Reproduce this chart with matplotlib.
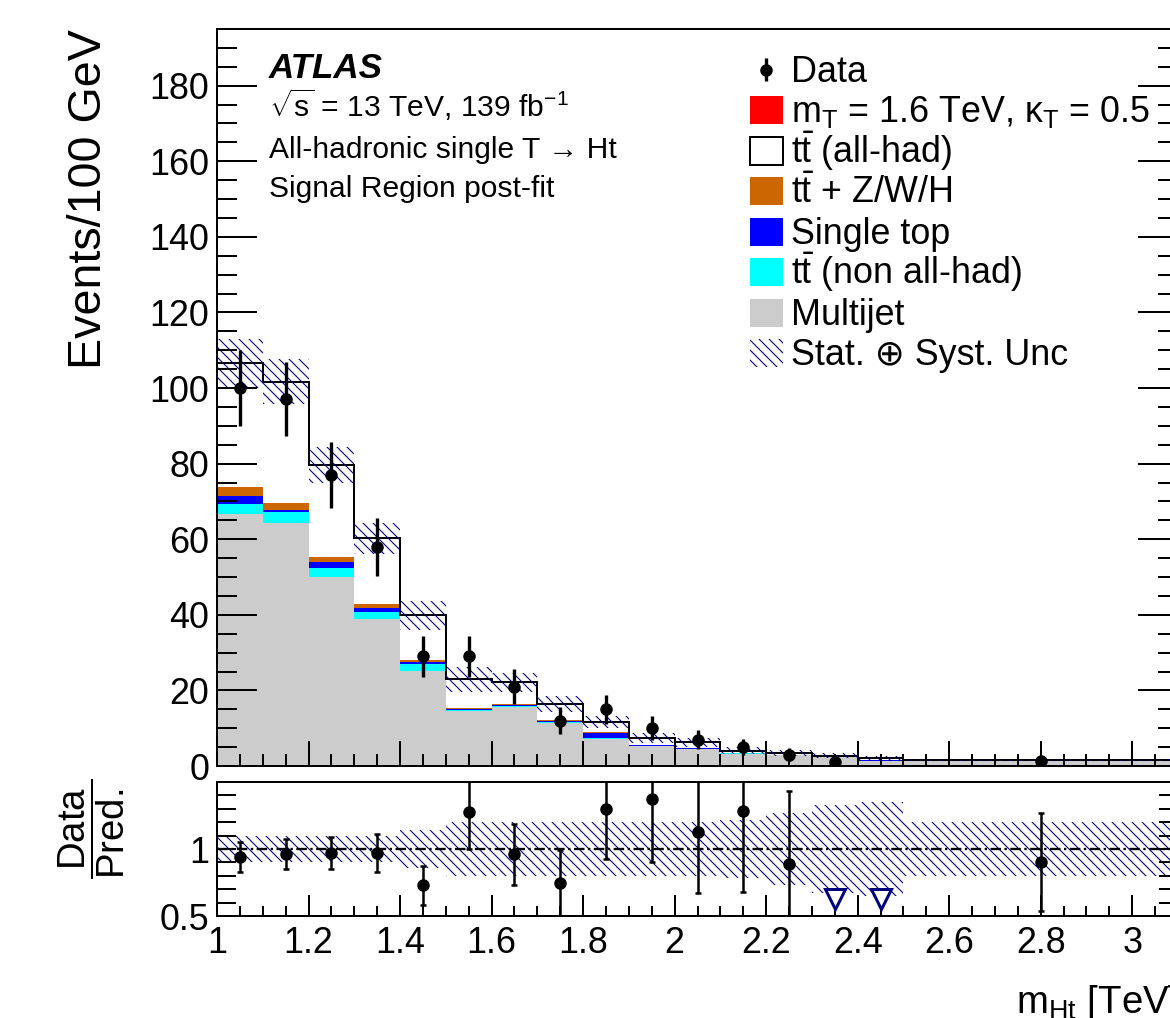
import matplotlib
matplotlib.use("Agg")
import matplotlib.pyplot as plt
import numpy as np
from matplotlib.patches import Rectangle
from matplotlib.ticker import MultipleLocator, FixedLocator, FuncFormatter

plt.rcParams["font.family"] = ["Liberation Sans", "DejaVu Sans"]
plt.rcParams["mathtext.fontset"] = "custom"
plt.rcParams["mathtext.rm"] = "Liberation Sans"
plt.rcParams["mathtext.it"] = "Liberation Sans:italic"
plt.rcParams["mathtext.bf"] = "Liberation Sans:bold"
plt.rcParams["hatch.linewidth"] = 0.65

NAVY = "#000080"
HATCH = "\\\\\\\\"
plt.rcParams["hatch.color"] = NAVY

# m_Ht bin edges [TeV]
bin_edges = [1.0, 1.1, 1.2, 1.3, 1.4, 1.5, 1.6, 1.7, 1.8, 1.9, 2.0, 2.1, 2.2, 2.3, 2.4, 2.5, 3.1]

# post-fit stack, events / 100 GeV, bottom to top
multijet = [66.6, 64.4, 50.1, 38.8, 25.2, 14.5, 15.7, 11.3, 7.2, 5.2, 4.5, 3.3, 2.8, 2.3, 1.3, 1.3]
tt_nonallhad = [2.7, 2.8, 2.3, 2.0, 1.7, 0.3, 0.3, 0.4, 0.3, 0.2, 0.1, 0.1, 0.1, 0.1, 0.05, 0.05]
single_top = [2.2, 0.5, 1.6, 0.9, 0.5, 0.3, 0.1, 0.2, 1.3, 0.1, 0.2, 0.05, 0.05, 0.05, 0.15, 0.05]
ttV = [2.2, 1.8, 1.4, 1.1, 0.6, 0.3, 0.3, 0.3, 0.2, 0.1, 0.05, 0.05, 0.05, 0.05, 0.0, 0.0]
tt_allhad = [32.8, 32.2, 24.2, 17.4, 11.9, 7.6, 5.7, 4.2, 2.7, 1.8, 1.45, 0.5, 0.5, 0.2, 0.5, 0.1]
signal = [0.0, 0.0, 0.0, 0.0, 0.0, 0.0, 0.0, 0.0, 0.0, 0.0, 0.0, 0.0, 0.0, 0.0, 0.0, 0.0]

# stat + syst uncertainty on the total prediction
bkg_unc = [6.5, 6.0, 4.75, 4.1, 3.8, 3.3, 2.5, 2.0, 1.55, 1.3, 1.2, 0.9, 0.8, 0.7, 0.6, 0.3]

data = [100, 97, 77, 58, 29, 29, 21, 12, 15, 10, 7, 5, 3, 1, 0, 1.4]
data_err = [10.0, 9.8, 8.8, 7.6, 5.4, 5.4, 4.6, 3.5, 3.9, 3.2, 2.6, 2.2, 1.7, 1.0, 0.0, 0.5]

# ratio panel
ratio_vals = [0.942, 0.96, 0.97, 0.97, 0.728, 1.275, 0.96, 0.743, 1.30, 1.372, 1.13, 1.287, 0.89, 0.37, 0.0, 0.903]
ratio_err = [0.11, 0.112, 0.12, 0.14, 0.145, 0.275, 0.225, 0.25, 0.375, 0.467, 0.455, 0.61, 0.54, 0.0, 0.0, 0.367]
ratio_unc = [0.095, 0.095, 0.095, 0.10, 0.145, 0.205, 0.205, 0.205, 0.205, 0.205, 0.205, 0.215, 0.27, 0.33, 0.35, 0.2]

edges = np.array(bin_edges)
centers = 0.5 * (edges[:-1] + edges[1:])

fig = plt.figure(figsize=(9.75, 8.4834), dpi=120)
ax = fig.add_axes([0.18547, 0.24754, 0.82137, 0.72397])
ax2 = fig.add_axes([0.18547, 0.100196, 0.82137, 0.131631])

# stacked histogram
stack = [
    (multijet, "#cccccc"),
    (tt_nonallhad, "#00ffff"),
    (single_top, "#0000ff"),
    (ttV, "#cc6600"),
    (tt_allhad, "white"),
    (signal, "#ff0000"),
]
base = np.zeros(len(centers))
for vals, col in stack:
    top = base + np.array(vals)
    ax.stairs(top, edges, baseline=base, fill=True, facecolor=col, edgecolor=col, linewidth=0)
    base = top
total = base
ax.stairs(total, edges, baseline=None, color="black", linewidth=1.2)

unc = np.array(bkg_unc)
ax.stairs(total + unc, edges, baseline=total - unc, fill=True, facecolor="none",
          edgecolor=NAVY, linewidth=0, hatch=HATCH)

d = np.array(data, dtype=float)
de = np.array(data_err)
has = d > 0
ax.errorbar(centers[has], d[has], yerr=de[has], fmt="o", color="black", markersize=6.5,
            elinewidth=2.0, capsize=0, zorder=5)

# ratio panel
runc = np.array(ratio_unc)
ax2.stairs(1 + runc, edges, baseline=1 - runc, fill=True, facecolor="none",
           edgecolor=NAVY, linewidth=0, hatch=HATCH)
ax2.axhline(1, color="black", linewidth=1.4, dashes=(4.5, 1.5, 1, 1.5))

r = np.array(ratio_vals)
re = np.array(ratio_err)
rlo = 0.5
inside = r >= rlo
ax2.errorbar(centers[inside], r[inside], yerr=re[inside], fmt="o", color="black", markersize=6.5,
             elinewidth=1.5, capsize=2, capthick=1.5, zorder=5)
# points below the range get an open triangle
below = ~inside
ax2.plot(centers[below], np.full(below.sum(), rlo + 0.13), "v", markersize=12,
         markerfacecolor="white", markeredgecolor=NAVY, markeredgewidth=1.8, zorder=6)

fmt = FuncFormatter(lambda v, p: f"{v:g}")

for a in (ax, ax2):
    a.set_xlim(1.0, 3.1)
    for s in a.spines.values():
        s.set_linewidth(1.2)
    a.xaxis.set_major_locator(MultipleLocator(0.2))
    a.xaxis.set_minor_locator(MultipleLocator(0.05))
    a.tick_params(which="both", direction="in", top=False, right=True, width=1.2,
                  labelsize=21.5)

ax.set_ylim(0, 195)
ax.yaxis.set_major_locator(MultipleLocator(20))
ax.yaxis.set_minor_locator(MultipleLocator(5))
ax.yaxis.set_major_formatter(fmt)
ax.tick_params(axis="y", which="major", length=24, pad=4.5)
ax.tick_params(axis="y", which="minor", length=12)
ax.tick_params(axis="x", which="major", length=15, labelbottom=False)
ax.tick_params(axis="x", which="minor", length=7.2)

ax2.set_ylim(0.5, 1.5)
ax2.yaxis.set_major_locator(FixedLocator([0.5, 1.0]))
ax2.yaxis.set_minor_locator(MultipleLocator(0.1))
ax2.yaxis.set_major_formatter(fmt)
ax2.xaxis.set_major_formatter(fmt)
ax2.tick_params(axis="y", which="both", length=11.4, pad=4.5)
ax2.tick_params(axis="x", which="major", length=12.4, pad=6)
ax2.tick_params(axis="x", which="minor", length=5.8)

ax.set_ylabel("Events/100 GeV", fontsize=28, loc="top")
ax.yaxis.set_label_coords(-0.110, 1.0)
ax2.set_ylabel(r"$\dfrac{\mathrm{Data}}{\mathrm{Pred.}}$", fontsize=23)
ax2.yaxis.set_label_coords(-0.094, 0.65)
ax2.set_xlabel(r"m$_{\mathrm{Ht}}$ [TeV]", fontsize=23, loc="right")
ax2.xaxis.set_label_coords(1.0, -0.5)

# ATLAS labels
ax.text(0.0541, 0.9335, "ATLAS", fontsize=21, fontweight="bold", fontstyle="italic",
        transform=ax.transAxes, va="baseline")
ax.text(0.0541, 0.8806, r"$\sqrt{\mathrm{s}}$ = 13 TeV, 139 fb$^{\mathrm{-1}}$", fontsize=18,
        transform=ax.transAxes, va="baseline")
ax.text(0.0541, 0.8250, "All-hadronic single T \u2192 Ht", fontsize=18,
        transform=ax.transAxes, va="baseline")
ax.text(0.0541, 0.7723, "Signal Region post-fit", fontsize=18,
        transform=ax.transAxes, va="baseline")

# legend, drawn row by row to keep a fixed pitch
leg_labels = [
    "Data",
    r"m$_{\mathrm{T}}$ = 1.6 TeV, κ$_{\mathrm{T}}$ = 0.5",
    r"$\mathrm{t\bar{t}}$ (all-had)",
    r"$\mathrm{t\bar{t}}$ + Z/W/H",
    "Single top",
    r"$\mathrm{t\bar{t}}$ (non all-had)",
    "Multijet",
    "Stat. \u2295 Syst. Unc",
]
leg_styles = [
    None,
    dict(facecolor="#ff0000", edgecolor="none"),
    dict(facecolor="white", edgecolor="black", linewidth=1.2),
    dict(facecolor="#cc6600", edgecolor="none"),
    dict(facecolor="#0000ff", edgecolor="none"),
    dict(facecolor="#00ffff", edgecolor="none"),
    dict(facecolor="#cccccc", edgecolor="none"),
    dict(facecolor="none", edgecolor=NAVY, linewidth=0, hatch=HATCH),
]
box_x, box_w, box_h = 0.5546, 0.0343, 0.038
text_x = 0.5973
row0, pitch = 0.9444, 0.05486
for i, (lab, sty) in enumerate(zip(leg_labels, leg_styles)):
    yc = row0 - i * pitch
    if sty is None:
        ax.errorbar([box_x + box_w / 2], [yc], yerr=[0.0156], fmt="o", color="black",
                    markersize=6.5, elinewidth=2.0, transform=ax.transAxes, clip_on=False)
    else:
        ax.add_patch(Rectangle((box_x, yc - box_h / 2), box_w, box_h,
                               transform=ax.transAxes, **sty))
    ax.text(text_x, yc - 0.0163, lab, fontsize=21.5, transform=ax.transAxes, va="baseline")

fig.savefig("out.png", dpi=120)
